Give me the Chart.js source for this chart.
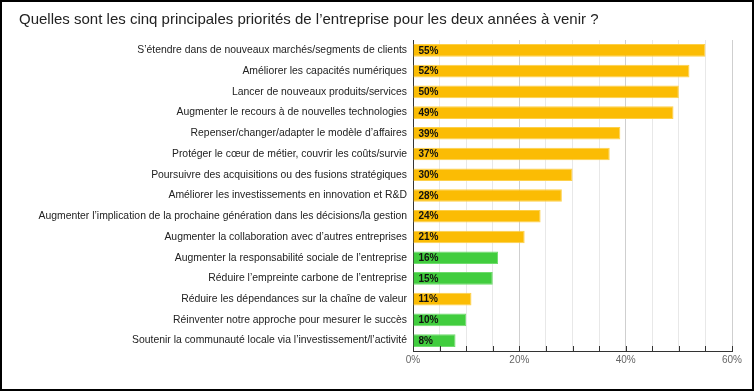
<!DOCTYPE html>
<html lang="fr">
<head>
<meta charset="utf-8">
<script src="https://cdn.jsdelivr.net/npm/chart.js@4/dist/chart.umd.min.js"></script>
<style>
    html, body { margin: 0; padding: 0; background: #fff; }
    #cadre {
        width: 754px;
        height: 391px;
        box-sizing: border-box;
        border: 2px solid #000;
        position: relative;
    }
    #grafico { display: block; }
</style>
</head>
<body>
<div id="cadre">
    <canvas id="grafico" width="750" height="387"></canvas>
</div>
<script>
const titulo = 'Quelles sont les cinq principales priorités de l’entreprise pour les deux années à venir ?';

const priorites = [
    'S’étendre dans de nouveaux marchés/segments de clients',
    'Améliorer les capacités numériques',
    'Lancer de nouveaux produits/services',
    'Augmenter le recours à de nouvelles technologies',
    'Repenser/changer/adapter le modèle d’affaires',
    'Protéger le cœur de métier, couvrir les coûts/survie',
    'Poursuivre des acquisitions ou des fusions stratégiques',
    'Améliorer les investissements en innovation et R&D',
    'Augmenter l’implication de la prochaine génération dans les décisions/la gestion',
    'Augmenter la collaboration avec d’autres entreprises',
    'Augmenter la responsabilité sociale de l’entreprise',
    'Réduire l’empreinte carbone de l’entreprise',
    'Réduire les dépendances sur la chaîne de valeur',
    'Réinventer notre approche pour mesurer le succès',
    'Soutenir la communauté locale via l’investissement/l’activité'
];

const pourcentages = [55, 52, 50, 49, 39, 37, 30, 28, 24, 21, 16, 15, 11, 10, 8];

// true = theme durable (barre verte)
const durable = [false, false, false, false, false, false, false, false, false, false, true, true, false, true, true];

const ticksX = [0, 20, 40, 60];

const jaune = '#fbbc04';
const jauneBord = '#fdd04a';
const vert = '#41cd3e';
const vertBord = '#6fdc6c';

// etiquettes "55%" au debut de chaque barre
const pluginEtiquettes = {
    id: 'etiquettes',
    afterDatasetsDraw(chart) {
        const ctx = chart.ctx;
        const meta = chart.getDatasetMeta(0);
        ctx.save();
        ctx.font = 'bold 10px "Liberation Sans", Arial, sans-serif';
        ctx.fillStyle = '#111';
        ctx.textAlign = 'left';
        ctx.textBaseline = 'middle';
        meta.data.forEach((barre, i) => {
            ctx.fillText(pourcentages[i] + '%', barre.base + 5, barre.y + 0.5);
        });
        ctx.restore();
    }
};

// petites graduations vers l'interieur sur l'axe du bas
const pluginGraduations = {
    id: 'graduations',
    afterDraw(chart) {
        const ctx = chart.ctx;
        const x = chart.scales.x;
        const bas = chart.chartArea.bottom;
        ctx.save();
        ctx.strokeStyle = '#333';
        ctx.lineWidth = 1;
        for (let v = x.min; v <= x.max; v += 5) {
            const px = Math.round(x.getPixelForValue(v)) + 0.5;
            ctx.beginPath();
            ctx.moveTo(px, bas - 5);
            ctx.lineTo(px, bas);
            ctx.stroke();
        }
        ctx.restore();
    }
};

new Chart(document.getElementById('grafico'), {
    type: 'bar',
    data: {
        labels: priorites,
        datasets: [{
            data: pourcentages,
            backgroundColor: durable.map(d => d ? vert : jaune),
            borderColor: durable.map(d => d ? vertBord : jauneBord),
            borderWidth: 1,
            borderSkipped: 'start',
            barPercentage: 0.61,
            categoryPercentage: 1
        }]
    },
    options: {
        indexAxis: 'y',
        responsive: false,
        animation: false,
        layout: { padding: { left: 17, right: 20, top: 0, bottom: 0 } },
        plugins: {
            legend: { display: false },
            tooltip: { enabled: false },
            title: {
                display: true,
                text: titulo,
                align: 'start',
                color: '#222',
                font: { family: '"Liberation Sans", Arial, sans-serif', size: 15, weight: 'normal' },
                padding: { top: 9, bottom: 11 }
            }
        },
        scales: {
            x: {
                min: 0,
                max: 60,
                afterBuildTicks(scale) {
                    const t = [];
                    for (let v = 0; v <= 60; v += 5) t.push({ value: v });
                    scale.ticks = t;
                },
                afterFit(scale) { scale.height = 38; },
                ticks: {
                    padding: 3,
                    autoSkip: false,
                    maxRotation: 0,
                    color: '#666',
                    font: { family: '"Liberation Sans", Arial, sans-serif', size: 10 },
                    callback: v => ticksX.includes(v) ? v + '%' : ''
                },
                grid: {
                    drawTicks: false,
                    color: c => (c.tick && c.tick.value % 20 === 0) ? '#cfcfcf' : '#e8e8e8'
                },
                border: { display: true, color: '#333', width: 1 }
            },
            y: {
                afterFit(scale) { scale.width = 394; },
                ticks: {
                    padding: 6,
                    color: '#222',
                    autoSkip: false,
                    font: { family: '"Liberation Sans", Arial, sans-serif', size: 10.4 }
                },
                grid: { display: false, drawTicks: false },
                border: { display: true, color: '#333', width: 1 }
            }
        }
    },
    plugins: [pluginEtiquettes, pluginGraduations]
});
</script>
</body>
</html>
